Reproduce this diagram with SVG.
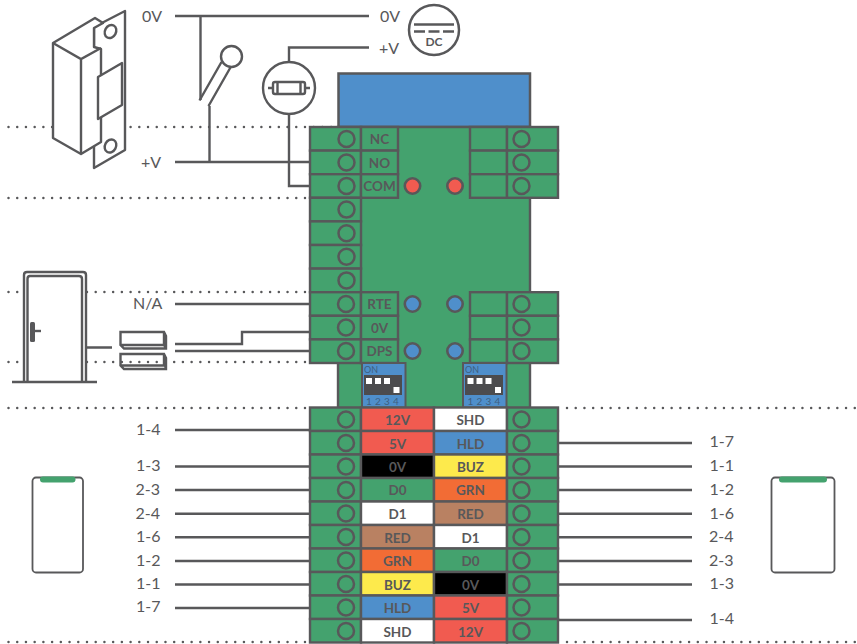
<svg xmlns="http://www.w3.org/2000/svg" width="857" height="644" viewBox="0 0 857 644">
<style>
text{font-family:Lato,"Open Sans",sans-serif;fill:#58585a}
.t{font-size:16px}
.m{text-anchor:middle}
.b{font-size:13.5px;font-weight:700;text-anchor:middle}
.s{fill:none;stroke:#58585a;stroke-width:2.4}
.w{fill:#fff;stroke:#58585a;stroke-width:2.4;stroke-linejoin:round}
.c{fill:#44a26e;stroke:#58585a;stroke-width:2.4}
.h{fill:none;stroke:#58585a;stroke-width:2.5}
.d{fill:none;stroke:#58585a;stroke-width:2.5;stroke-linecap:round;stroke-dasharray:0 8.72}
.red{fill:#f15b50;stroke:#58585a;stroke-width:2.4}
.blu{fill:#4f8fcb;stroke:#58585a;stroke-width:2.4}
.blk{fill:#000;stroke:#58585a;stroke-width:2.4}
.grn{fill:#44a26e;stroke:#58585a;stroke-width:2.4}
.wht{fill:#fff;stroke:#58585a;stroke-width:2.4}
.brn{fill:#b98162;stroke:#58585a;stroke-width:2.4}
.org{fill:#f26c35;stroke:#58585a;stroke-width:2.4}
.yel{fill:#fdea4c;stroke:#58585a;stroke-width:2.4}
.led-r{fill:#f15b50;stroke:#58585a;stroke-width:2.6}
.led-b{fill:#4f8fcb;stroke:#58585a;stroke-width:2.6}
.sw{fill:#fff}
.n{font-size:10px;fill:#3f5f80;text-anchor:middle}
</style>
<g id="grid-lines">
<path class="d" d="M8.500 127H335M8.500 198H310M8.500 292H310M8.500 362H310M8.500 408H310M8.500 642H310M567 408H857M567 642H857"/>
</g>
<g id="connectors">
<path class="s" d="M175 16H369M200.500 16V100M209.500 106V162M175 162H310M369 47.500H289V62M289 114V186H310"/>
<path class="s" d="M175 304H310M175 344H242V332H310M175 351H310M86 347.500H112"/>
<path class="s" d="M175 430H310M175 466.500H310M175 490H310M175 513.700H310M175 537.300H310M175 561H310M175 584.500H310M175 608H310"/>
<path class="s" d="M558 443H692M558 466.500H692M558 490H692M558 513.700H692M558 537.300H692M558 561H692M558 584.500H692M558 620H692"/>
</g>
<g id="strike">
<path class="w" d="M94 168V27L125 11V150Z"/>
<path class="w" d="M53 43L95 18L103 23L94 28V47L101 49V142L81 154L53 138Z"/>
<path class="s" d="M53 43L81 59L101 48M81 59V154"/>
<path class="w" d="M98 77L122 63V105L98 119Z"/>
<ellipse class="s" cx="110.500" cy="31.500" rx="5.500" ry="6.800" transform="rotate(28 110.500 31.500)"/>
<ellipse class="s" cx="110.500" cy="146" rx="5.500" ry="6.800" transform="rotate(28 110.500 146)"/>
</g>
<g id="switch">
<path class="s" d="M199.500 100.500L221.500 62M208.500 106L231 66.500"/>
<circle class="w" cx="231.500" cy="56.500" r="10.500"/>
</g>
<g id="fuse">
<circle class="w" cx="289" cy="88" r="26"/>
<path class="s" d="M268 88H273M305 88H310"/>
<rect class="w" x="273" y="82" width="32" height="12" rx="2"/>
<path class="s" d="M277.500 82V94M300.500 82V94"/>
</g>
<g id="dc-source">
<circle class="h" cx="434" cy="30" r="25"/>
<path d="M414 24.500H454" class="s" stroke-width="3"/>
<path d="M414 31.500H454" class="s" stroke-dasharray="11 3.500"/>
<text x="434" y="45.500" class="m" style="font-size:12px;font-weight:700">DC</text>
</g>
<g id="wire-labels">
<text class="t" x="142" y="21.500">0V</text>
<text class="t" x="141" y="168">+V</text>
<text class="t" x="380" y="21.500">0V</text>
<text class="t" x="379" y="53.500">+V</text>
<text class="t" x="133" y="309">N/A</text>
<text class="t" x="136" y="435">1-4</text>
<text class="t" x="136" y="471">1-3</text>
<text class="t" x="135.500" y="494.500">2-3</text>
<text class="t" x="135.500" y="518.500">2-4</text>
<text class="t" x="136" y="542">1-6</text>
<text class="t" x="136" y="565.500">1-2</text>
<text class="t" x="136" y="589">1-1</text>
<text class="t" x="136" y="612">1-7</text>
<text class="t" x="709.500" y="447">1-7</text>
<text class="t" x="709.500" y="471">1-1</text>
<text class="t" x="709.500" y="494.500">1-2</text>
<text class="t" x="709.500" y="518.500">1-6</text>
<text class="t" x="709" y="542">2-4</text>
<text class="t" x="709" y="565.500">2-3</text>
<text class="t" x="709.500" y="589">1-3</text>
<text class="t" x="709.500" y="624">1-4</text>
</g>
<g id="door">
<path class="w" d="M24 382V275Q24 272 27 272H83Q86 272 86 275V382"/>
<path class="s" d="M27.500 382V279Q27.500 276 30 276H79Q82 276 82 279V382"/>
<path class="s" d="M12 382H97"/>
<rect x="30" y="322" width="5" height="20" rx="1.500" fill="#58585a"/>
<path class="s" d="M34 331H41"/>
</g>
<g id="door-contact">
<path class="s" d="M120.500 332H164L166 336V348.500H124L120.500 345ZM120.500 345H164L166 348.500M164 332V345"/>
<path class="s" d="M120.500 354H164L166 358V369H124L120.500 365.500ZM120.500 365.500H165L166 369M164 354V365.500"/>
</g>
<g id="board">
<rect x="338.500" y="73.500" width="191.500" height="53.500" fill="#4f8fcb" stroke="#58585a" stroke-width="2.500"/>
<rect x="338" y="127" width="192" height="281" fill="#44a26e" stroke="#58585a" stroke-width="2.400"/>
</g>
<g id="relay-terminals">
<rect class="c" x="310" y="127" width="51" height="23.600"/><rect class="c" x="361" y="127" width="37" height="23.600"/>
<rect class="c" x="310" y="150.600" width="51" height="23.600"/><rect class="c" x="361" y="150.600" width="37" height="23.600"/>
<rect class="c" x="310" y="174.200" width="51" height="23.600"/><rect class="c" x="361" y="174.200" width="37" height="23.600"/>
<rect class="c" x="470" y="127" width="37" height="23.600"/><rect class="c" x="507" y="127" width="51" height="23.600"/>
<rect class="c" x="470" y="150.600" width="37" height="23.600"/><rect class="c" x="507" y="150.600" width="51" height="23.600"/>
<rect class="c" x="470" y="174.200" width="37" height="23.600"/><rect class="c" x="507" y="174.200" width="51" height="23.600"/>
<circle class="h" cx="346.500" cy="139" r="8"/><circle class="h" cx="346.500" cy="162.500" r="8"/><circle class="h" cx="346.500" cy="186" r="8"/>
<circle class="h" cx="521.500" cy="139" r="8"/><circle class="h" cx="521.500" cy="162.500" r="8"/><circle class="h" cx="521.500" cy="186" r="8"/>
<text class="b" x="379.500" y="144">NC</text><text class="b" x="379.500" y="168">NO</text><text class="b" x="379.500" y="191">COM</text>
<circle class="led-r" cx="412.500" cy="186" r="7.700"/><circle class="led-r" cx="455" cy="186" r="7.700"/>
</g>
<g id="middle-terminals">
<rect class="c" x="310" y="197.800" width="51" height="23.600"/>
<rect class="c" x="310" y="221.400" width="51" height="23.600"/>
<rect class="c" x="310" y="245" width="51" height="23.600"/>
<rect class="c" x="310" y="268.600" width="51" height="23.600"/>
<circle class="h" cx="346.500" cy="209.600" r="8"/><circle class="h" cx="346.500" cy="233.200" r="8"/><circle class="h" cx="346.500" cy="256.800" r="8"/><circle class="h" cx="346.500" cy="280.400" r="8"/>
</g>
<g id="input-terminals">
<rect class="c" x="310" y="292.200" width="51" height="23.600"/><rect class="c" x="361" y="292.200" width="37" height="23.600"/>
<rect class="c" x="310" y="315.800" width="51" height="23.600"/><rect class="c" x="361" y="315.800" width="37" height="23.600"/>
<rect class="c" x="310" y="339.400" width="51" height="23.600"/><rect class="c" x="361" y="339.400" width="37" height="23.600"/>
<rect class="c" x="470" y="292.200" width="37" height="23.600"/><rect class="c" x="507" y="292.200" width="51" height="23.600"/>
<rect class="c" x="470" y="315.800" width="37" height="23.600"/><rect class="c" x="507" y="315.800" width="51" height="23.600"/>
<rect class="c" x="470" y="339.400" width="37" height="23.600"/><rect class="c" x="507" y="339.400" width="51" height="23.600"/>
<circle class="h" cx="346" cy="304" r="8"/><circle class="h" cx="346" cy="327.500" r="8"/><circle class="h" cx="346" cy="351" r="8"/>
<circle class="h" cx="521.500" cy="304" r="8"/><circle class="h" cx="521.500" cy="327.500" r="8"/><circle class="h" cx="521.500" cy="351" r="8"/>
<text class="b" x="379.500" y="309">RTE</text><text class="b" x="379.500" y="333">0V</text><text class="b" x="379.500" y="356">DPS</text>
<circle class="led-b" cx="412.500" cy="304" r="7.700"/><circle class="led-b" cx="455" cy="304" r="7.700"/>
<circle class="led-b" cx="412.500" cy="351" r="7.700"/><circle class="led-b" cx="455" cy="351" r="7.700"/>
</g>
<g id="dip-left">
<rect x="362" y="363" width="43.500" height="44.500" fill="#4f8fcb" stroke="#58585a" stroke-width="2"/>
<text x="364" y="373" style="font-size:9px;fill:#3f5f80">ON</text>
<rect x="364" y="375" width="38" height="20" fill="#4c4c4e"/>
<rect class="sw" x="366" y="378" width="6" height="6"/><rect class="sw" x="375" y="378" width="6" height="6"/><rect class="sw" x="384" y="378" width="6" height="6"/><rect class="sw" x="393.500" y="387" width="6" height="6"/>
<text class="n" x="369" y="404.500">1</text><text class="n" x="378" y="404.500">2</text><text class="n" x="387" y="404.500">3</text><text class="n" x="396" y="404.500">4</text>
</g>
<g id="dip-right">
<rect x="463" y="363" width="43.500" height="44.500" fill="#4f8fcb" stroke="#58585a" stroke-width="2"/>
<text x="465" y="373" style="font-size:9px;fill:#3f5f80">ON</text>
<rect x="465" y="375" width="38" height="20" fill="#4c4c4e"/>
<rect class="sw" x="467.500" y="378" width="6" height="6"/><rect class="sw" x="476.500" y="378" width="6" height="6"/><rect class="sw" x="485.500" y="378" width="6" height="6"/><rect class="sw" x="495" y="387" width="6" height="6"/>
<text class="n" x="470.500" y="404.500">1</text><text class="n" x="479.500" y="404.500">2</text><text class="n" x="488.500" y="404.500">3</text><text class="n" x="497.500" y="404.500">4</text>
</g>
<g id="reader-terminals">
<rect class="c" x="310" y="407.500" width="51" height="23.500"/><rect class="red" x="361" y="407.500" width="73" height="23.500"/><rect class="wht" x="434" y="407.500" width="73" height="23.500"/><rect class="c" x="507" y="407.500" width="51" height="23.500"/>
<rect class="c" x="310" y="431" width="51" height="23.500"/><rect class="red" x="361" y="431" width="73" height="23.500"/><rect class="blu" x="434" y="431" width="73" height="23.500"/><rect class="c" x="507" y="431" width="51" height="23.500"/>
<rect class="c" x="310" y="454.500" width="51" height="23.500"/><rect class="blk" x="361" y="454.500" width="73" height="23.500"/><rect class="yel" x="434" y="454.500" width="73" height="23.500"/><rect class="c" x="507" y="454.500" width="51" height="23.500"/>
<rect class="c" x="310" y="478" width="51" height="23.500"/><rect class="grn" x="361" y="478" width="73" height="23.500"/><rect class="org" x="434" y="478" width="73" height="23.500"/><rect class="c" x="507" y="478" width="51" height="23.500"/>
<rect class="c" x="310" y="501.500" width="51" height="23.500"/><rect class="wht" x="361" y="501.500" width="73" height="23.500"/><rect class="brn" x="434" y="501.500" width="73" height="23.500"/><rect class="c" x="507" y="501.500" width="51" height="23.500"/>
<rect class="c" x="310" y="525" width="51" height="23.500"/><rect class="brn" x="361" y="525" width="73" height="23.500"/><rect class="wht" x="434" y="525" width="73" height="23.500"/><rect class="c" x="507" y="525" width="51" height="23.500"/>
<rect class="c" x="310" y="548.500" width="51" height="23.500"/><rect class="org" x="361" y="548.500" width="73" height="23.500"/><rect class="grn" x="434" y="548.500" width="73" height="23.500"/><rect class="c" x="507" y="548.500" width="51" height="23.500"/>
<rect class="c" x="310" y="572" width="51" height="23.500"/><rect class="yel" x="361" y="572" width="73" height="23.500"/><rect class="blk" x="434" y="572" width="73" height="23.500"/><rect class="c" x="507" y="572" width="51" height="23.500"/>
<rect class="c" x="310" y="595.500" width="51" height="23.500"/><rect class="blu" x="361" y="595.500" width="73" height="23.500"/><rect class="red" x="434" y="595.500" width="73" height="23.500"/><rect class="c" x="507" y="595.500" width="51" height="23.500"/>
<rect class="c" x="310" y="619" width="51" height="23.500"/><rect class="wht" x="361" y="619" width="73" height="23.500"/><rect class="red" x="434" y="619" width="73" height="23.500"/><rect class="c" x="507" y="619" width="51" height="23.500"/>
<circle class="h" cx="346" cy="419.500" r="8"/><circle class="h" cx="346" cy="443" r="8"/><circle class="h" cx="346" cy="466.500" r="8"/><circle class="h" cx="346" cy="490" r="8"/><circle class="h" cx="346" cy="513.500" r="8"/><circle class="h" cx="346" cy="537" r="8"/><circle class="h" cx="346" cy="560.500" r="8"/><circle class="h" cx="346" cy="584" r="8"/><circle class="h" cx="346" cy="607.500" r="8"/><circle class="h" cx="346" cy="631" r="8"/>
<circle class="h" cx="521.500" cy="419.500" r="8"/><circle class="h" cx="521.500" cy="443" r="8"/><circle class="h" cx="521.500" cy="466.500" r="8"/><circle class="h" cx="521.500" cy="490" r="8"/><circle class="h" cx="521.500" cy="513.500" r="8"/><circle class="h" cx="521.500" cy="537" r="8"/><circle class="h" cx="521.500" cy="560.500" r="8"/><circle class="h" cx="521.500" cy="584" r="8"/><circle class="h" cx="521.500" cy="607.500" r="8"/><circle class="h" cx="521.500" cy="631" r="8"/>
<text class="b" x="397.500" y="425">12V</text><text class="b" x="470.500" y="425">SHD</text>
<text class="b" x="397.500" y="448.500">5V</text><text class="b" x="470.500" y="448.500">HLD</text>
<text class="b" x="397.500" y="472">0V</text><text class="b" x="470.500" y="472">BUZ</text>
<text class="b" x="397.500" y="495">D0</text><text class="b" x="470.500" y="495">GRN</text>
<text class="b" x="397.500" y="519">D1</text><text class="b" x="470.500" y="519">RED</text>
<text class="b" x="397.500" y="543">RED</text><text class="b" x="470.500" y="543">D1</text>
<text class="b" x="397.500" y="566">GRN</text><text class="b" x="470.500" y="566">D0</text>
<text class="b" x="397.500" y="589.500">BUZ</text><text class="b" x="470.500" y="589.500">0V</text>
<text class="b" x="397.500" y="613">HLD</text><text class="b" x="470.500" y="613">5V</text>
<text class="b" x="397.500" y="637">SHD</text><text class="b" x="470.500" y="637">12V</text>
</g>
<g id="reader-left">
<rect x="32.500" y="477.500" width="50.500" height="95" rx="3.500" fill="#fff" stroke="#58585a" stroke-width="1.800"/>
<rect x="40" y="476.500" width="35.500" height="6" rx="3" fill="#44a26e"/>
</g>
<g id="reader-right">
<rect x="771.500" y="477.500" width="63" height="95" rx="3.500" fill="#fff" stroke="#58585a" stroke-width="1.800"/>
<rect x="779" y="476.500" width="48" height="6" rx="3" fill="#44a26e"/>
</g>
</svg>
